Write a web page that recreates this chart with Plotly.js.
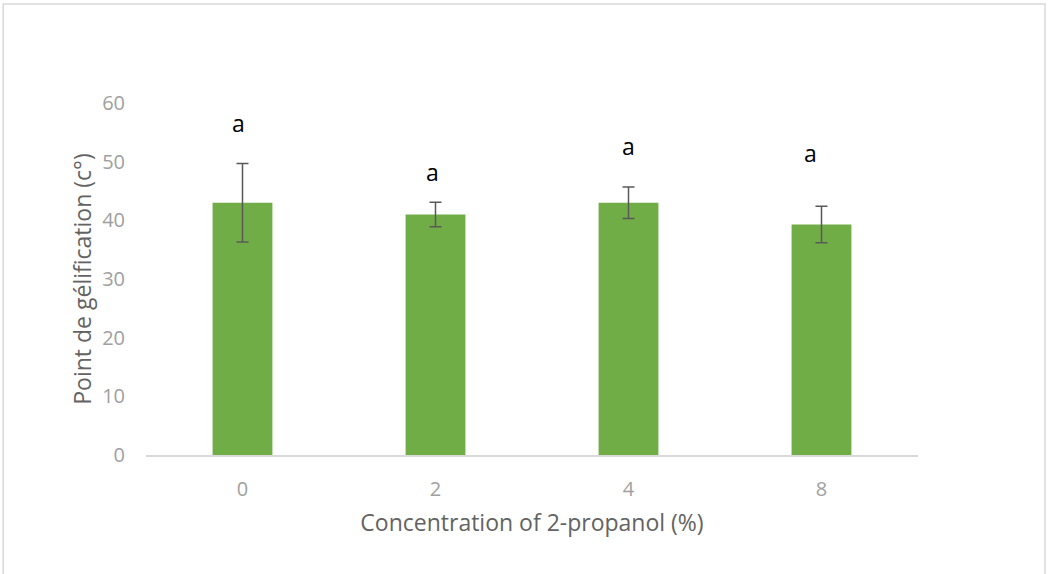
<!DOCTYPE html>
<html>
<head>
<meta charset="utf-8">
<script src="https://cdn.plot.ly/plotly-3.0.1.min.js"></script>
<style>
  html, body { margin: 0; padding: 0; background: #ffffff; }
  #chart { width: 1049px; height: 574px; }
</style>
</head>
<body>
<div id="chart"></div>
<script>
// 2-propanol concentration (%) and measured gelation point
const concentrations = ["0", "2", "4", "8"];
const gelPoint = [43.0, 41.0, 43.0, 39.3];
const gelError = [6.7, 2.1, 2.7, 3.1];

// significance letters and the height at which each is printed
const letters = ["a", "a", "a", "a"];
const letterY = [56.6, 48.3, 52.6, 51.4];
const letterShift = [-4, -3, 0, -11];

const yTicks = [0, 10, 20, 30, 40, 50, 60];

const trace = {
  type: "bar",
  x: concentrations,
  y: gelPoint,
  marker: { color: "#70ad47", line: { width: 0 } },
  error_y: {
    type: "data",
    array: gelError,
    visible: true,
    color: "#595959",
    thickness: 1.5,
    width: 6
  },
  hoverinfo: "x+y"
};

// letters sit above each bar; on a category axis the position is the category index
const annotations = concentrations.map((c, i) => ({
  x: i,
  y: letterY[i],
  xref: "x",
  yref: "y",
  text: letters[i],
  showarrow: false,
  xshift: letterShift[i],
  font: { family: "Open Sans, sans-serif", size: 23, color: "#000000" }
}));

const layout = {
  width: 1049,
  height: 574,
  paper_bgcolor: "#ffffff",
  plot_bgcolor: "#ffffff",
  margin: { l: 146, r: 131, t: 103, b: 119 },
  showlegend: false,
  bargap: 0.69,
  font: { family: "Open Sans, sans-serif", color: "#a6a6a6" },
  xaxis: {
    type: "category",
    range: [-0.5, concentrations.length - 0.5],
    showgrid: false,
    zeroline: false,
    showline: true,
    linecolor: "#d9d9d9",
    linewidth: 1.5,
    ticks: "",
    tickfont: { size: 20, color: "#a0a0a0" },
    ticklabelstandoff: 15,
    title: {
      text: "Concentration of 2-propanol (%)",
      font: { size: 23, color: "#636363" },
      standoff: 14
    }
  },
  yaxis: {
    range: [0, 60],
    tickvals: yTicks,
    showgrid: false,
    zeroline: false,
    showline: false,
    ticks: "",
    tickfont: { size: 20, color: "#a0a0a0" },
    ticklabelstandoff: 20,
    title: {
      text: "Point de gélification (c°)",
      font: { size: 23, color: "#636363" },
      standoff: 4
    }
  },
  annotations: annotations,
  shapes: [{
    // light frame around the whole chart, open at the bottom edge of the page
    type: "rect",
    xref: "paper", yref: "paper",
    x0: -0.185, x1: 1.1645, y0: -0.45, y1: 1.281,
    line: { color: "#d9d9d9", width: 1.5 },
    fillcolor: "rgba(0,0,0,0)",
    layer: "below"
  }]
};

Plotly.newPlot("chart", [trace], layout, { displayModeBar: false, staticPlot: true });
</script>
</body>
</html>
